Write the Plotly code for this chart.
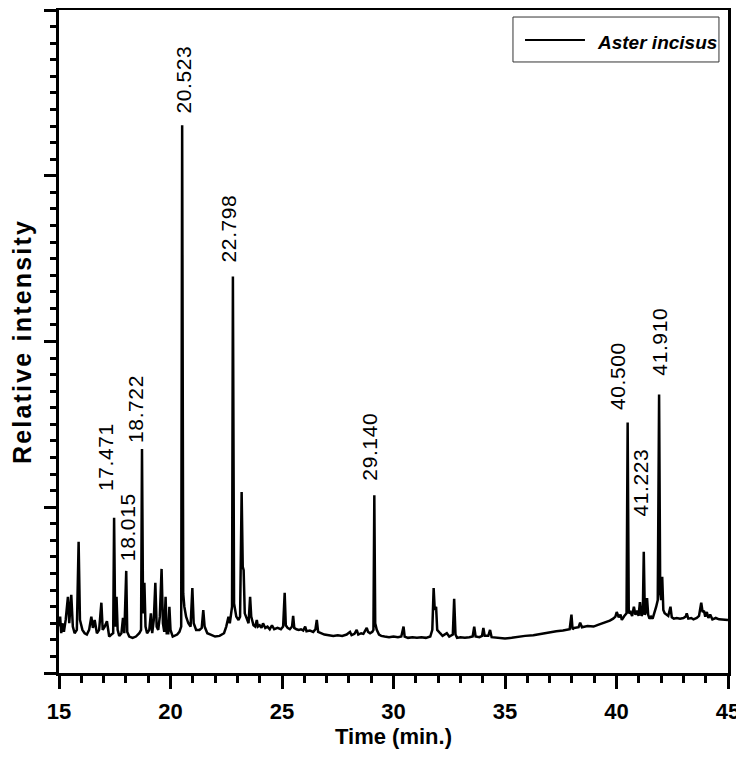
import plotly.graph_objects as go

# ---------------- data ----------------
time_min = [
    15.00, 15.05, 15.10, 15.15, 15.22, 15.30, 15.40, 15.46, 15.55, 15.62, 15.70, 15.80,
    15.88, 15.94, 16.05, 16.15, 16.25, 16.35, 16.45, 16.52, 16.60, 16.70, 16.80, 16.90,
    16.96, 17.05, 17.15, 17.25, 17.35, 17.43, 17.471, 17.52, 17.58, 17.63, 17.70, 17.80,
    17.87, 17.93, 18.015, 18.06, 18.15, 18.30, 18.45, 18.60, 18.68, 18.722, 18.77, 18.83,
    18.88, 18.95, 19.05, 19.12, 19.18, 19.25, 19.32, 19.38, 19.45, 19.52, 19.60, 19.66,
    19.72, 19.78, 19.83, 19.90, 19.95, 20.00, 20.10, 20.20, 20.30, 20.40, 20.48, 20.523,
    20.57, 20.62, 20.70, 20.80, 20.90, 20.98, 21.04, 21.15, 21.30, 21.40, 21.47, 21.53,
    21.65, 21.80, 22.00, 22.20, 22.40, 22.50, 22.60, 22.66, 22.72, 22.76, 22.798, 22.85,
    22.95, 23.05, 23.12, 23.19, 23.24, 23.28, 23.33, 23.42, 23.50, 23.57, 23.62, 23.72,
    23.80, 23.87, 23.92, 24.00, 24.08, 24.15, 24.25, 24.35, 24.45, 24.55, 24.65, 24.80,
    24.95, 25.05, 25.12, 25.17, 25.25, 25.35, 25.45, 25.50, 25.55, 25.65, 25.75, 25.85,
    25.95, 26.04, 26.10, 26.25, 26.40, 26.50, 26.56, 26.62, 26.75, 26.90, 27.10, 27.30,
    27.50, 27.70, 27.90, 28.05, 28.12, 28.25, 28.35, 28.42, 28.55, 28.65, 28.80, 28.86,
    28.95, 29.05, 29.10, 29.140, 29.18, 29.25, 29.35, 29.45, 29.60, 29.80, 30.00, 30.20,
    30.35, 30.45, 30.50, 30.65, 30.85, 31.05, 31.25, 31.45, 31.65, 31.74, 31.80, 31.85,
    31.91, 31.96, 32.09, 32.20, 32.39, 32.50, 32.66, 32.72, 32.78, 32.85, 33.00, 33.20,
    33.40, 33.55, 33.62, 33.68, 33.85, 33.97, 34.03, 34.09, 34.25, 34.33, 34.40, 34.60,
    34.78, 35.00, 35.30, 35.60, 35.90, 36.27, 36.60, 37.02, 37.30, 37.60, 37.90, 37.98,
    38.03, 38.10, 38.30, 38.37, 38.45, 38.70, 38.97, 39.20, 39.40, 39.56, 39.70, 39.85,
    39.95, 40.01, 40.10, 40.18, 40.24, 40.35, 40.45, 40.500, 40.55, 40.63, 40.70, 40.78,
    40.85, 40.93, 40.99, 41.05, 41.12, 41.18, 41.223, 41.27, 41.32, 41.37, 41.42, 41.48,
    41.55, 41.62, 41.70, 41.78, 41.85, 41.910, 41.96, 42.00, 42.05, 42.10, 42.16, 42.24,
    42.32, 42.42, 42.48, 42.57, 42.70, 42.85, 43.00, 43.10, 43.15, 43.22, 43.35, 43.45,
    43.60, 43.70, 43.80, 43.86, 43.92, 43.98, 44.05, 44.12, 44.20, 44.30, 44.45, 44.60,
    44.80, 45.00,
]

intensity = [
    7.0, 8.5, 6.0, 7.5, 6.2, 8.0, 11.5, 7.5, 11.8, 7.0, 6.0, 6.5,
    19.8, 8.0, 6.5, 6.0, 5.8, 6.5, 8.5, 6.8, 8.0, 6.0, 6.5, 10.6,
    6.5, 7.0, 7.8, 5.5, 5.8, 6.0, 23.4, 7.0, 11.5, 6.5, 5.6, 6.0,
    8.3, 6.0, 15.4, 6.2, 5.5, 5.3, 5.5, 6.0, 6.5, 33.8, 9.0, 13.6,
    7.0, 6.0, 6.5, 9.0, 6.0, 8.0, 13.6, 7.0, 6.5, 8.5, 15.7, 7.5,
    6.2, 11.5, 6.0, 6.0, 10.0, 6.5, 5.5, 5.6, 5.8, 6.2, 7.0, 82.6,
    12.0, 10.0, 8.5, 7.5, 7.0, 12.8, 7.5, 6.5, 6.5, 6.8, 9.5, 7.0,
    6.0, 5.8, 5.5, 5.6, 6.0, 7.0, 8.5, 7.5, 9.0, 10.0, 59.8, 10.5,
    8.5, 8.0, 8.5, 27.3, 16.0, 15.5, 9.0, 8.0, 7.5, 11.5, 8.5, 7.2,
    7.0, 8.0, 7.0, 7.2, 6.8, 7.5, 6.8, 7.0, 6.6, 7.2, 6.6, 6.8,
    6.6, 7.0, 12.1, 7.2, 6.8, 6.6, 7.0, 8.6, 6.8, 6.6, 6.5, 6.6,
    6.4, 7.0, 6.3, 6.4, 6.2, 6.6, 8.0, 6.2, 6.0, 5.8, 5.7, 5.6,
    5.7, 5.6, 5.8, 6.2, 5.7, 5.9, 6.5, 5.8, 6.0, 5.9, 6.8, 6.2,
    6.0, 6.2, 6.5, 26.8, 7.5, 6.5, 5.8, 5.6, 5.5, 5.4, 5.5, 5.4,
    5.5, 7.0, 5.5, 5.3, 5.4, 5.3, 5.4, 5.3, 5.5, 6.5, 12.8, 9.5,
    10.0, 6.5, 6.0, 5.6, 6.0, 5.5, 5.8, 11.2, 5.8, 5.3, 5.4, 5.3,
    5.4, 5.5, 7.0, 5.5, 5.4, 5.6, 6.8, 5.6, 5.6, 6.5, 5.4, 5.3,
    5.3, 5.2, 5.3, 5.5, 5.6, 5.7, 5.9, 6.2, 6.3, 6.4, 6.6, 8.8,
    6.6, 6.8, 6.9, 7.6, 6.9, 7.1, 7.0, 7.3, 7.5, 7.7, 7.9, 8.2,
    8.5, 9.2, 8.4, 8.8, 8.0, 8.6, 9.0, 37.8, 9.0, 9.2, 8.6, 10.0,
    8.8, 9.4, 8.6, 10.7, 8.6, 9.0, 18.3, 8.8, 9.2, 11.3, 8.8, 8.2,
    8.5, 8.2, 9.0, 10.0, 11.0, 42.0, 12.0, 11.0, 14.5, 9.5, 9.0, 8.8,
    8.6, 10.0, 8.4, 8.2, 8.3, 8.2, 8.3, 8.5, 9.0, 8.2, 8.3, 8.1,
    8.3, 8.6, 10.6, 9.2, 9.4, 8.5, 9.2, 8.3, 8.8, 8.1, 8.3, 8.1,
    8.0, 8.0,
]

peak_times = [17.471, 18.015, 18.722, 20.523, 22.798, 29.140, 40.500, 41.223, 41.910]
peak_heights = [23.4, 15.4, 33.8, 82.6, 59.8, 26.8, 37.8, 18.3, 42.0]
peak_labels = ["17.471", "18.015", "18.722", "20.523", "22.798", "29.140", "40.500", "41.223", "41.910"]

x_ticks = [15, 20, 25, 30, 35, 40, 45]
series_name = "Aster incisus"

# ---------------- styling ----------------
FONT = "Liberation Sans, Arial, Helvetica, sans-serif"
label_xshift = [-8, 2, -6, 1, -4, -5, -10, -3, 0]
label_yshift = [25, 8, 4, 10, 12, 13, 10, 33, 17]

fig = go.Figure()
fig.add_trace(go.Scatter(
    x=time_min, y=intensity, mode="lines", name=series_name,
    line=dict(color="black", width=2.5), showlegend=False,
))

annotations = []
for t, h, lab, dx, dy in zip(peak_times, peak_heights, peak_labels, label_xshift, label_yshift):
    annotations.append(dict(
        x=t, y=h, xref="x", yref="y",
        text='<span style="letter-spacing:0.6px">' + lab + '</span>',
        showarrow=False, textangle=-90, xanchor="center", yanchor="bottom",
        xshift=dx, yshift=dy,
        font=dict(family=FONT, size=21, color="black"),
    ))

# legend box drawn by hand to match the reference proportions
annotations.append(dict(
    x=0.8012, y=0.9505, xref="paper", yref="paper", text=series_name,
    showarrow=False, xanchor="left", yanchor="middle",
    font=dict(family=FONT, size=19, color="black", weight="bold", style="italic"),
))
shapes = [
    dict(type="rect", xref="paper", yref="paper", x0=0.6786, x1=0.9865, y0=0.9216, y1=0.9894,
         line=dict(color="#333333", width=1), fillcolor="white", layer="above"),
    dict(type="line", xref="paper", yref="paper", x0=0.6966, x1=0.7862, y0=0.9548, y1=0.9548,
         line=dict(color="black", width=2), layer="above"),
]

fig.update_layout(
    width=736, height=750,
    margin=dict(l=51, r=16, t=2, b=85, autoexpand=False),
    paper_bgcolor="white", plot_bgcolor="white",
    font=dict(family=FONT, color="black"),
    annotations=annotations, shapes=shapes,
    xaxis=dict(
        range=[15, 45], tickvals=x_ticks, ticktext=[str(v) for v in x_ticks],
        ticks="outside", ticklen=13, tickwidth=2.5, tickcolor="black",
        minor=dict(dtick=1, ticks="outside", ticklen=7, tickwidth=2.5, tickcolor="black"),
        showline=True, linewidth=3, linecolor="black", mirror=True,
        showgrid=False, zeroline=False,
        tickfont=dict(family=FONT, size=22, color="black", weight="bold"),
        ticklabelstandoff=4,
        title=dict(text="Time (min.)", standoff=0,
                   font=dict(family=FONT, size=22, color="black", weight="bold")),
    ),
    yaxis=dict(
        range=[0, 100], tick0=0, dtick=25,
        ticks="outside", ticklen=12, tickwidth=2.5, tickcolor="black",
        minor=dict(dtick=2.5, ticks="outside", ticklen=6, tickwidth=2.5, tickcolor="black"),
        showticklabels=False,
        showline=True, linewidth=3, linecolor="black", mirror=True,
        showgrid=False, zeroline=False,
        title=dict(text='<span style="letter-spacing:2.2px">Relative intensity</span>', standoff=6,
                   font=dict(family=FONT, size=25, color="black", weight="bold")),
    ),
)

fig.write_html("out.html")
